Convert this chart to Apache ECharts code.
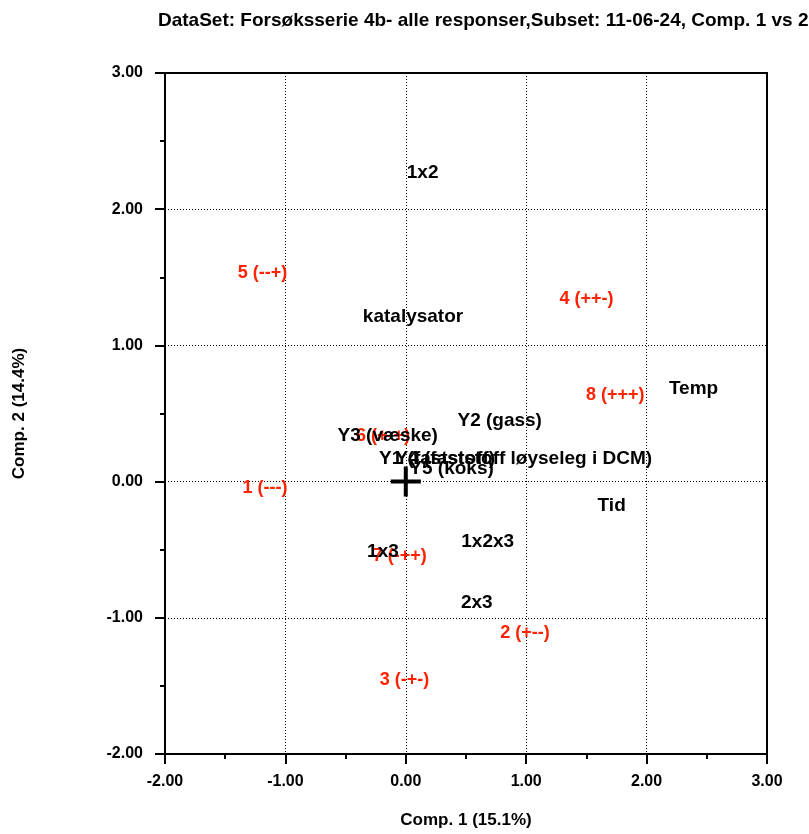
<!DOCTYPE html>
<html>
<head>
<meta charset="utf-8">
<script src="https://cdn.jsdelivr.net/npm/echarts@6/dist/echarts.min.js"></script>
<style>
html,body{margin:0;padding:0;background:#fff;}
#main{width:809px;height:834px;}
</style>
</head>
<body>
<div id="main"></div>
<script>
// variabler (svart tekst)
var varNames = ["1x2", "katalysator", "Temp", "Y2 (gass)", "Y3 (væske)", "Y1 (faststoff)",
    "Y4 (faststoff løyseleg i DCM)", "Y5 (koks)", "Tid", "1x2x3", "1x3", "2x3"];
var varX = [0.14, 0.06, 2.39, 0.78, -0.15, 0.26, 0.98, 0.38, 1.71, 0.68, -0.19, 0.59];
var varY = [2.27, 1.21, 0.68, 0.45, 0.335, 0.17, 0.17, 0.095, -0.18, -0.44, -0.515, -0.89];

// forsøk (raud tekst)
var objNames = ["1 (---)", "2 (+--)", "3 (-+-)", "4 (++-)", "5 (--+)", "6 (+-+)", "7 (-++)", "8 (+++)"];
var objX = [-1.17, 0.99, -0.01, 1.5, -1.19, -0.19, -0.05, 1.74];
var objY = [-0.045, -1.11, -1.46, 1.34, 1.53, 0.335, -0.55, 0.635];

var axisTicks = [-2, -1, 0, 1, 2, 3];

var dom = document.getElementById('main');
var myChart = echarts.init(dom);

function toPoints(xs, ys, names) {
    var out = [];
    for (var i = 0; i < xs.length; i++) {
        out.push({ name: names[i], value: [xs[i], ys[i]] });
    }
    return out;
}

var boldFont = '"Liberation Sans", Arial, sans-serif';

var option = {
    backgroundColor: '#fff',
    animation: false,
    title: {
        text: 'DataSet: Forsøksserie 4b- alle responser,Subset: 11-06-24, Comp. 1 vs 2',
        left: 153,
        top: 6,
        textStyle: {
            fontFamily: boldFont,
            fontWeight: 'bold',
            fontSize: 19,
            color: '#000'
        }
    },
    grid: {
        left: 165,
        right: 42,
        top: 73,
        bottom: 78,
        show: true,
        borderColor: '#000',
        borderWidth: 2
    },
    xAxis: {
        type: 'value',
        min: axisTicks[0],
        max: axisTicks[axisTicks.length - 1],
        interval: 1,
        name: 'Comp. 1 (15.1%)',
        nameLocation: 'middle',
        nameGap: 58,
        nameTextStyle: { fontFamily: boldFont, fontWeight: 'bold', fontSize: 17, color: '#000' },
        axisLine: { onZero: false, lineStyle: { color: '#000', width: 2 } },
        axisTick: { inside: false, length: 10, lineStyle: { color: '#000', width: 2 } },
        minorTick: { show: true, splitNumber: 2, length: 5, lineStyle: { color: '#000', width: 2 } },
        axisLabel: {
            margin: 20,
            fontFamily: boldFont, fontWeight: 'bold', fontSize: 16, color: '#000',
            formatter: function (v) { return v.toFixed(2); }
        },
        splitLine: { show: true, lineStyle: { type: [1, 2], color: '#000', width: 1 } }
    },
    yAxis: {
        type: 'value',
        min: axisTicks[0],
        max: axisTicks[axisTicks.length - 1],
        interval: 1,
        name: 'Comp. 2 (14.4%)',
        nameLocation: 'middle',
        nameGap: 137,
        nameTextStyle: { fontFamily: boldFont, fontWeight: 'bold', fontSize: 17, color: '#000' },
        axisLine: { onZero: false, lineStyle: { color: '#000', width: 2 } },
        axisTick: { inside: false, length: 10, lineStyle: { color: '#000', width: 2 } },
        minorTick: { show: true, splitNumber: 2, length: 5, lineStyle: { color: '#000', width: 2 } },
        axisLabel: {
            margin: 22,
            fontFamily: boldFont, fontWeight: 'bold', fontSize: 16, color: '#000',
            formatter: function (v) { return v.toFixed(2); }
        },
        splitLine: { show: true, lineStyle: { type: [1, 2], color: '#000', width: 1 } }
    },
    series: [
        {
            name: 'origo',
            type: 'scatter',
            symbol: 'path://M0,13 L30,13 L30,17 L0,17 Z M13,0 L17,0 L17,30 L13,30 Z',
            symbolSize: 30,
            itemStyle: { color: '#000', opacity: 1 },
            z: 3,
            data: [[0, 0]]
        },
        {
            name: 'objekt',
            type: 'scatter',
            symbolSize: 0,
            z: 4,
            itemStyle: { color: '#ff2200', opacity: 1 },
            label: {
                show: true,
                position: 'inside',
                formatter: '{b}',
                fontFamily: boldFont,
                fontWeight: 'bold',
                fontSize: 18,
                color: '#ff2200',
                textBorderWidth: 0
            },
            labelLayout: { hideOverlap: false },
            data: toPoints(objX, objY, objNames)
        },
        {
            name: 'variablar',
            type: 'scatter',
            symbolSize: 0,
            z: 5,
            itemStyle: { color: '#000', opacity: 1 },
            label: {
                show: true,
                position: 'inside',
                formatter: '{b}',
                fontFamily: boldFont,
                fontWeight: 'bold',
                fontSize: 19,
                color: '#000',
                textBorderWidth: 0
            },
            labelLayout: { hideOverlap: false },
            data: toPoints(varX, varY, varNames)
        }
    ]
};

if (option && typeof option === "object") {
    myChart.setOption(option, true);
}
</script>
</body>
</html>
